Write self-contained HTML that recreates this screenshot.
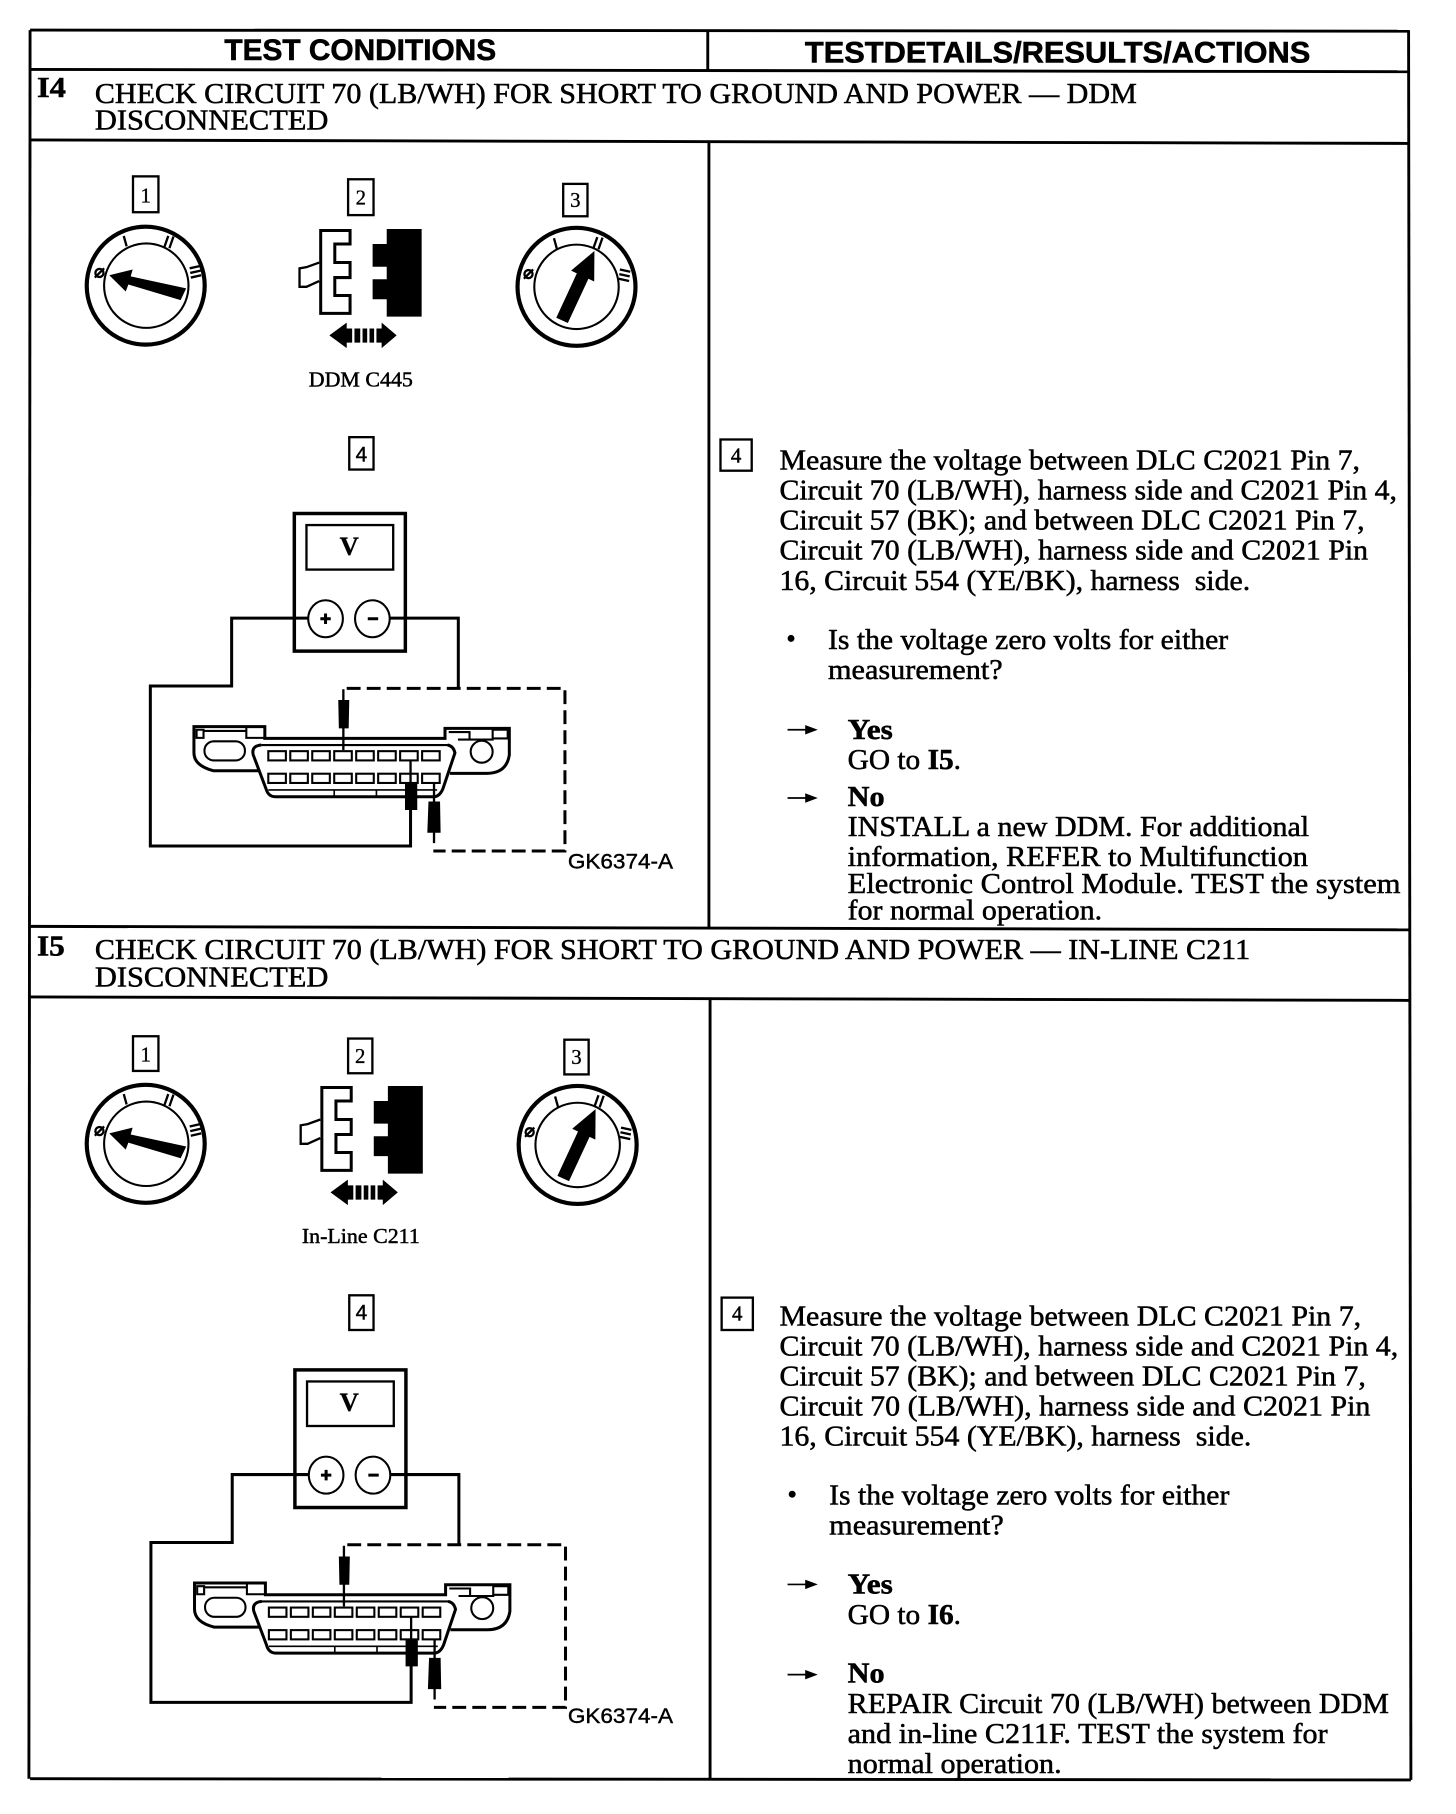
<!DOCTYPE html>
<html lang="en">
<head>
<meta charset="utf-8">
<title>Test Conditions I4 and I5</title>
<style>
html,body{margin:0;padding:0;background:#fff}
svg{display:block}
text{fill:#000;stroke:#000;stroke-width:.45;font-family:"Liberation Serif",serif;font-size:25px}
.h{font-family:"Liberation Sans",sans-serif;font-weight:700;font-size:26px;stroke-width:.5}
.b{font-weight:700}
.n{font-size:18px;stroke-width:.4}
.c{font-size:18px;stroke-width:.3}
.g{font-family:"Liberation Sans",sans-serif;font-size:18px;stroke-width:.35}
.v{font-weight:700;font-size:23px;stroke-width:.3}
.line{stroke:#000;stroke-width:2.5;fill:none}
.w{stroke:#000;stroke-width:2.6;fill:none}
.o{stroke:#000;stroke-width:2.6;fill:none}
.thin{stroke:#000;stroke-width:1.8;fill:none}
.box{stroke:#000;stroke-width:2;fill:#fff}
</style>
</head>
<body>
<svg xmlns="http://www.w3.org/2000/svg" width="1456" height="1814" viewBox="0 0 1259 1568.5" preserveAspectRatio="none">
<defs>
<g id="dialA">
<circle cx="126" cy="247" r="51" fill="#fff" stroke="#000" stroke-width="3.6"/>
<circle cx="126.500" cy="247" r="36.500" fill="none" stroke="#000" stroke-width="1.800"/>
<g stroke="#000" stroke-width="2" fill="none">
<circle cx="86" cy="236" r="3.500"/><path d="M82 240L90 232"/>
<path d="M107 204L109.500 213"/>
<path d="M142 214L145.500 204M146.500 214.500L150 204.500"/>
<path d="M164 232L173 230M164.500 236L173.500 234M165 240L174 238"/>
</g>
<path d="M94.500 238L114.700 233L113 239L161 249.300L156.200 259.500L111 246L108.700 252Z" fill="#000"/>
</g>
<g id="dialB">
<circle cx="498.500" cy="248" r="51" fill="#fff" stroke="#000" stroke-width="3.6"/>
<circle cx="498.500" cy="248" r="36.500" fill="none" stroke="#000" stroke-width="1.800"/>
<g stroke="#000" stroke-width="2" fill="none">
<circle cx="457" cy="237" r="3.500"/><path d="M453 241L461 233"/>
<path d="M479 206L481.500 215"/>
<path d="M513 215L516.500 205M517.500 215.500L521 205.500"/>
<path d="M536 233L545 235M535.500 237L544.500 239M535 241L544 243"/>
</g>
<path d="M514 217L513.800 243.400L508.800 241L491 279.300L481 274.700L498.800 236.400L493.800 234Z" fill="#000"/>
</g>
<g id="conn">
<path d="M277.300 199.300H302.700V211H289.500V227H302.700V240H289.500V255.500H302.700V271H277.300Z" fill="#fff" stroke="#000" stroke-width="2.600"/>
<path d="M276 227L265 231L259 232V248H265L276 243" fill="#fff" stroke="#000" stroke-width="2"/>
<path d="M334.400 198H364.600V273.800H334.400V258.700H322.200V241.500H334.400V230.600H322.200V211H334.400Z" fill="#000"/>
<path d="M284.800 290L299.800 279V301Z M343 290L330 279V301Z" fill="#000"/>
<path d="M299 284H304.500V296.300H299ZM306.500 284H311.500V296.300H306.500ZM313.500 284H317.500V296.300H313.500ZM319.500 284H323.500V296.300H319.500ZM325.500 284H331V296.300H325.500Z" fill="#000"/>
</g>
<g id="meter">
<rect x="254.500" y="444" width="96" height="119" fill="#fff" stroke="#000" stroke-width="3"/>
<rect x="265" y="454" width="75" height="38.500" fill="#fff" stroke="#000" stroke-width="2"/>
<ellipse cx="281.500" cy="535" rx="15" ry="16" fill="#fff" stroke="#000" stroke-width="1.800"/>
<ellipse cx="322" cy="535" rx="15" ry="16" fill="#fff" stroke="#000" stroke-width="1.800"/>
<path d="M277 535H286M281.500 530.500V539.500M318 535H327" stroke="#000" stroke-width="2.600" fill="none"/>
<path class="w" d="M266 534.500H200.300V593.200H130V731.500H355V700"/>
<path class="w" d="M337 534.500H396.300V595"/>
<path class="w" stroke-width="2.400" stroke-dasharray="12 5.300" d="M299.800 595.200H488.500V735.800H374.700"/>
<path d="M296.900 596V648.500M355 657V702M375.300 677.500V729" stroke="#000" stroke-width="2" fill="none"/>
<path d="M292.500 605.300H302L301.500 629.800H293Z" fill="#000"/>
<path d="M350.200 677.300H360.800V700.400H350.200Z" fill="#000"/>
<path d="M370.500 693H380.500L381 720H369.500Z" fill="#000"/>
<path class="o" d="M223.400 666.400H184.500Q167.700 662 167.700 651V628.300H229V638.400H384.800V629.800H440.400V652.800Q438 668.700 420.800 668.700H389"/>
<path class="thin" stroke-width="1.600" d="M226 644.200H389"/>
<path class="o" d="M226 644.200Q217 645 219 652.800L230 682Q232 688.900 238 688.900H375Q380 688.900 383 682L393.400 651Q392 645 387 644.200"/>
<rect x="176.800" y="641" width="35" height="16.500" rx="8" class="thin" stroke-width="2"/>
<circle cx="416.500" cy="650" r="9.500" class="thin"/>
<path class="thin" d="M170 631H176V638H170ZM176 632H213V638H229M213 632V629M388 633H406V639.500H396M406 639.500H426V631H439V638.500H426"/>
<g class="thin">
<rect x="232" y="649.500" width="15.200" height="8"/><rect x="251" y="649.500" width="15.200" height="8"/><rect x="270" y="649.500" width="15.200" height="8"/><rect x="289" y="649.500" width="15.200" height="8"/><rect x="308" y="649.500" width="15.200" height="8"/><rect x="327" y="649.500" width="15.200" height="8"/><rect x="346" y="649.500" width="15.200" height="8"/><rect x="365" y="649.500" width="15.200" height="8"/>
<rect x="232" y="669" width="15.200" height="8"/><rect x="251" y="669" width="15.200" height="8"/><rect x="270" y="669" width="15.200" height="8"/><rect x="289" y="669" width="15.200" height="8"/><rect x="308" y="669" width="15.200" height="8"/><rect x="327" y="669" width="15.200" height="8"/><rect x="346" y="669" width="15.200" height="8"/><rect x="365" y="669" width="15.200" height="8"/>
</g>
<path d="M232 683H378M289 683V688M325.500 683V688" stroke="#000" stroke-width="1.400" fill="none"/>
</g>
<path id="arr" d="M681 0H699M697 -3L705 0L697 3Z" stroke="#000" stroke-width="1.500" fill="#000"/>
</defs>

<rect width="1259" height="1568.500" fill="#fff"/>

<!-- table -->
<path class="line" d="M26 26L1218 27"/>
<path class="line" d="M26 60L1218 62"/>
<path class="line" d="M26 121L1219 124"/>
<path class="line" d="M26 801L1220 804"/>
<path class="line" d="M26 862L1220 865"/>
<path class="line" d="M26 1538L1220 1539"/>
<path class="line" d="M26 26L25 1538"/>
<path class="line" d="M1218 26L1220 1539"/>
<path class="line" d="M612 27V61"/>
<path class="line" d="M613 123V802"/>
<path class="line" d="M614 864V1539"/>

<!-- headers -->
<text class="h" x="194" y="52" textLength="235" lengthAdjust="spacingAndGlyphs">TEST CONDITIONS</text>
<text class="h" x="696" y="54" textLength="437" lengthAdjust="spacingAndGlyphs">TESTDETAILS/RESULTS/ACTIONS</text>

<text class="b" x="32" y="84" textLength="25" lengthAdjust="spacingAndGlyphs">I4</text>
<text x="82" y="89" textLength="901" lengthAdjust="spacingAndGlyphs">CHECK CIRCUIT 70 (LB/WH) FOR SHORT TO GROUND AND POWER — DDM</text>
<text x="82" y="112" textLength="202" lengthAdjust="spacingAndGlyphs">DISCONNECTED</text>

<text class="b" x="32" y="826" textLength="24" lengthAdjust="spacingAndGlyphs">I5</text>
<text x="82" y="829" textLength="999" lengthAdjust="spacingAndGlyphs">CHECK CIRCUIT 70 (LB/WH) FOR SHORT TO GROUND AND POWER — IN-LINE C211</text>
<text x="82" y="853" textLength="202" lengthAdjust="spacingAndGlyphs">DISCONNECTED</text>

<!-- I4 left -->
<rect class="box" x="115" y="152.500" width="22" height="31"/><text class="c" x="126" y="175" text-anchor="middle">1</text>
<rect class="box" x="301" y="155" width="22" height="31"/><text class="c" x="312" y="177" text-anchor="middle">2</text>
<rect class="box" x="487" y="159" width="21" height="28"/><text class="c" x="497.500" y="179" text-anchor="middle">3</text>
<rect class="box" x="302" y="378" width="21" height="28"/><text class="g" x="312.500" y="399" text-anchor="middle">4</text>
<use href="#dialA"/>
<use href="#dialB"/>
<use href="#conn"/>
<text class="n" x="267" y="334" textLength="90" lengthAdjust="spacingAndGlyphs">DDM C445</text>
<use href="#meter"/>
<text class="v" x="302" y="480" text-anchor="middle">V</text>
<text class="g" x="491" y="751" textLength="91" lengthAdjust="spacingAndGlyphs">GK6374-A</text>

<!-- I4 right -->
<rect class="box" x="623" y="380" width="27" height="27"/><text class="n" x="636.500" y="400" text-anchor="middle">4</text>
<text x="674" y="406" textLength="502" lengthAdjust="spacingAndGlyphs">Measure the voltage between DLC C2021 Pin 7,</text>
<text x="674" y="432" textLength="534" lengthAdjust="spacingAndGlyphs">Circuit 70 (LB/WH), harness side and C2021 Pin 4,</text>
<text x="674" y="458" textLength="506" lengthAdjust="spacingAndGlyphs">Circuit 57 (BK); and between DLC C2021 Pin 7,</text>
<text x="674" y="484" textLength="509" lengthAdjust="spacingAndGlyphs">Circuit 70 (LB/WH), harness side and C2021 Pin</text>
<text x="674" y="510" textLength="407" lengthAdjust="spacingAndGlyphs">16, Circuit 554 (YE/BK), harness&#160; side.</text>
<circle cx="684" cy="552" r="3" fill="#000"/>
<text x="716" y="561" textLength="346" lengthAdjust="spacingAndGlyphs">Is the voltage zero volts for either</text>
<text x="716" y="587" textLength="151" lengthAdjust="spacingAndGlyphs">measurement?</text>
<use href="#arr" y="631"/>
<text class="b" x="733" y="639" textLength="39" lengthAdjust="spacingAndGlyphs">Yes</text>
<text x="733" y="665" textLength="98" lengthAdjust="spacingAndGlyphs">GO to <tspan class="b">I5</tspan>.</text>
<use href="#arr" y="690"/>
<text class="b" x="733" y="697" textLength="32" lengthAdjust="spacingAndGlyphs">No</text>
<text x="733" y="723" textLength="399" lengthAdjust="spacingAndGlyphs">INSTALL a new DDM. For additional</text>
<text x="733" y="749" textLength="398" lengthAdjust="spacingAndGlyphs">information, REFER to Multifunction</text>
<text x="733" y="772" textLength="478" lengthAdjust="spacingAndGlyphs">Electronic Control Module. TEST the system</text>
<text x="733" y="795" textLength="220" lengthAdjust="spacingAndGlyphs">for normal operation.</text>

<!-- I5 left -->
<rect class="box" x="115" y="896" width="22" height="30"/><text class="c" x="126" y="918" text-anchor="middle">1</text>
<rect class="box" x="301" y="898" width="21" height="30"/><text class="c" x="311.500" y="919" text-anchor="middle">2</text>
<rect class="box" x="488" y="899" width="21" height="30"/><text class="c" x="498.500" y="920" text-anchor="middle">3</text>
<rect class="box" x="302" y="1120" width="21" height="30"/><text class="g" x="312.500" y="1141" text-anchor="middle">4</text>
<use href="#dialA" y="742"/>
<use href="#dialB" x="1" y="742"/>
<use href="#conn" x="1" y="741"/>
<text class="n" x="261" y="1075" textLength="102" lengthAdjust="spacingAndGlyphs">In-Line C211</text>
<use href="#meter" x="0.500" y="740.500"/>
<text class="v" x="302" y="1220" text-anchor="middle">V</text>
<text class="g" x="491" y="1490" textLength="91" lengthAdjust="spacingAndGlyphs">GK6374-A</text>

<!-- I5 right -->
<rect class="box" x="624" y="1122" width="27" height="28"/><text class="n" x="637.500" y="1142" text-anchor="middle">4</text>
<text x="674" y="1146" textLength="503" lengthAdjust="spacingAndGlyphs">Measure the voltage between DLC C2021 Pin 7,</text>
<text x="674" y="1172" textLength="535" lengthAdjust="spacingAndGlyphs">Circuit 70 (LB/WH), harness side and C2021 Pin 4,</text>
<text x="674" y="1198" textLength="507" lengthAdjust="spacingAndGlyphs">Circuit 57 (BK); and between DLC C2021 Pin 7,</text>
<text x="674" y="1224" textLength="511" lengthAdjust="spacingAndGlyphs">Circuit 70 (LB/WH), harness side and C2021 Pin</text>
<text x="674" y="1250" textLength="408" lengthAdjust="spacingAndGlyphs">16, Circuit 554 (YE/BK), harness&#160; side.</text>
<circle cx="685" cy="1292" r="3" fill="#000"/>
<text x="717" y="1301" textLength="346" lengthAdjust="spacingAndGlyphs">Is the voltage zero volts for either</text>
<text x="717" y="1327" textLength="151" lengthAdjust="spacingAndGlyphs">measurement?</text>
<use href="#arr" y="1370"/>
<text class="b" x="733" y="1378" textLength="39" lengthAdjust="spacingAndGlyphs">Yes</text>
<text x="733" y="1404" textLength="98" lengthAdjust="spacingAndGlyphs">GO to <tspan class="b">I6</tspan>.</text>
<use href="#arr" y="1448"/>
<text class="b" x="733" y="1455" textLength="32" lengthAdjust="spacingAndGlyphs">No</text>
<text x="733" y="1481" textLength="468" lengthAdjust="spacingAndGlyphs">REPAIR Circuit 70 (LB/WH) between DDM</text>
<text x="733" y="1507" textLength="415" lengthAdjust="spacingAndGlyphs">and in-line C211F. TEST the system for</text>
<text x="733" y="1533" textLength="185" lengthAdjust="spacingAndGlyphs">normal operation.</text>
</svg>
</body>
</html>
